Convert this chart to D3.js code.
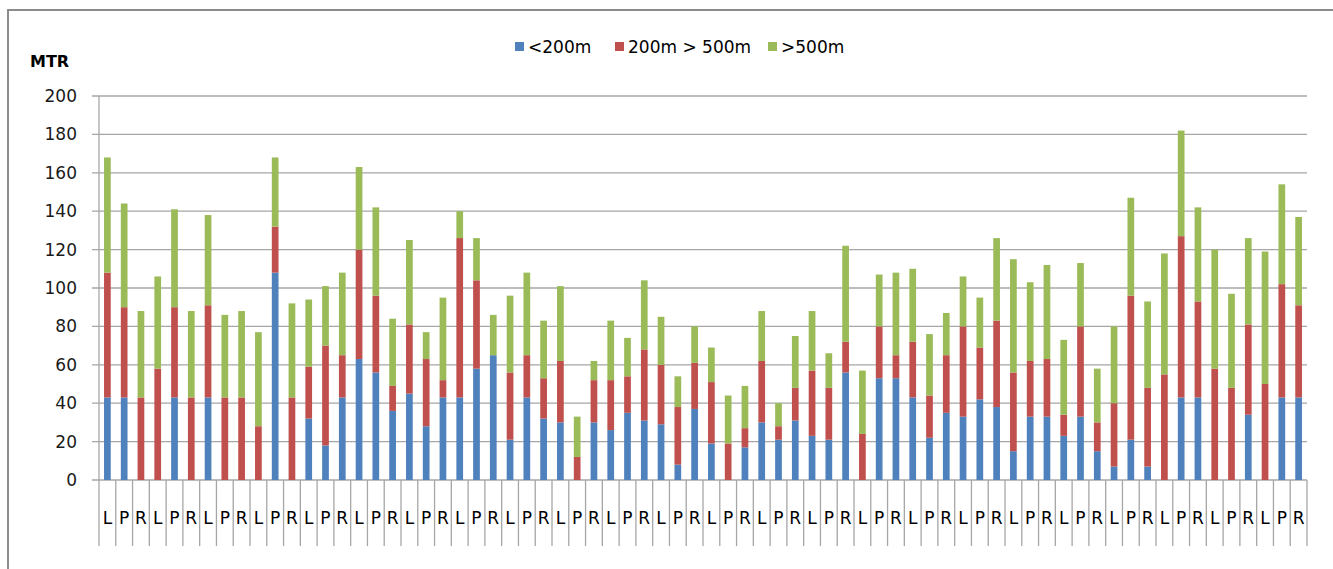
<!DOCTYPE html>
<html>
<head>
<meta charset="utf-8">
<script src="https://cdn.jsdelivr.net/npm/d3@7"></script>
<style>
  body { margin: 0; background: #fff; }
  svg { display: block; }
</style>
</head>
<body>
<div id="chart"></div>
<script>
// categorias (L, P, R repetidas)
var categorias = [
  "L","P","R","L","P","R","L","P","R","L","P","R",
  "L","P","R","L","P","R","L","P","R","L","P","R",
  "L","P","R","L","P","R","L","P","R","L","P","R",
  "L","P","R","L","P","R","L","P","R","L","P","R",
  "L","P","R","L","P","R","L","P","R","L","P","R",
  "L","P","R","L","P","R","L","P","R","L","P","R"
];

var menos200 = [43,43,0,0,43,0,43,0,0,0,108,0,32,18,43,63,56,36,
  45,28,43,43,58,65,21,43,32,30,0,30,26,35,31,29,8,37,
  19,0,17,30,21,31,23,21,56,0,53,53,43,22,35,33,42,38,
  15,33,33,23,33,15,7,21,7,0,43,43,0,0,34,0,43,43];

var entre200y500 = [65,47,43,58,47,43,48,43,43,28,24,43,27,52,22,57,40,13,
  36,35,9,83,46,0,35,22,21,32,12,22,26,19,37,31,30,24,
  32,19,10,32,7,17,34,27,16,24,27,12,29,22,30,47,27,45,
  41,29,30,11,47,15,33,75,41,55,84,50,58,48,47,50,59,48];

var mas500 = [60,54,45,48,51,45,47,43,45,49,36,49,35,31,43,43,46,35,
  44,14,43,14,22,21,40,43,30,39,21,10,31,20,36,25,16,19,
  18,25,22,26,12,27,31,18,50,33,27,43,38,32,22,26,26,43,
  59,41,49,39,33,28,40,51,45,63,55,49,62,49,45,69,52,46];

var series = ["<200m", "200m > 500m", ">500m"];
var colores = ["#4F81BD", "#C0504D", "#9BBB59"];
var ticksY = [0, 20, 40, 60, 80, 100, 120, 140, 160, 180, 200];

var width = 1333, height = 569;
var plotLeft = 99, plotRight = 1307, plotTop = 96, plotBottom = 480;

var svg = d3.select("#chart").append("svg")
  .attr("width", width)
  .attr("height", height);

// marco del grafico
svg.append("rect")
  .attr("x", 8).attr("y", 10)
  .attr("width", 1340).attr("height", 580)
  .attr("fill", "none")
  .attr("stroke", "#8c8c8c")
  .attr("stroke-width", 2);

var datos = categorias.map(function(c, i) {
  return { idx: i, cat: c, a: menos200[i], b: entre200y500[i], c2: mas500[i] };
});

var stack = d3.stack().keys(["a", "b", "c2"]);
var capas = stack(datos);

var xCat = d3.scaleBand()
  .domain(d3.range(categorias.length))
  .range([plotLeft, plotRight])
  .padding(0);

var x = d3.scaleBand()
  .domain(d3.range(categorias.length))
  .range([plotLeft, plotRight])
  .paddingInner(0.6)
  .paddingOuter(0.3);

var y = d3.scaleLinear().domain([0, 200]).range([plotBottom, plotTop]);

// lineas de cuadricula
svg.append("g")
  .selectAll("line")
  .data(ticksY)
  .enter()
  .append("line")
  .attr("x1", plotLeft - 7)
  .attr("x2", plotRight)
  .attr("y1", d => y(d))
  .attr("y2", d => y(d))
  .attr("stroke", "#a6a6a6")
  .attr("stroke-width", 1.3);

// barras apiladas
svg.append("g")
  .selectAll("g")
  .data(capas)
  .enter()
  .append("g")
  .attr("fill", (d, i) => colores[i])
  .selectAll("rect")
  .data(d => d)
  .enter()
  .append("rect")
  .attr("x", d => x(d.data.idx))
  .attr("width", x.bandwidth())
  .attr("y", d => y(d[1]))
  .attr("height", d => y(d[0]) - y(d[1]));

// eje Y
var ejeY = svg.append("g")
  .attr("transform", "translate(" + plotLeft + ",0)")
  .call(d3.axisLeft(y).tickValues(ticksY).tickSize(0).tickPadding(22));
ejeY.select(".domain").remove();
ejeY.selectAll("text")
  .attr("font-family", "DejaVu Sans")
  .attr("font-size", 17)
  .attr("fill", "#1a1a1a");

svg.append("line")
  .attr("x1", plotLeft).attr("x2", plotLeft)
  .attr("y1", plotTop).attr("y2", plotBottom)
  .attr("stroke", "#a6a6a6")
  .attr("stroke-width", 1.3);

// divisiones de categorias
var bordes = d3.range(categorias.length + 1);
svg.append("g")
  .selectAll("line")
  .data(bordes)
  .enter()
  .append("line")
  .attr("x1", d => d < categorias.length ? xCat(d) : plotRight)
  .attr("x2", d => d < categorias.length ? xCat(d) : plotRight)
  .attr("y1", plotBottom)
  .attr("y2", 546)
  .attr("stroke", "#a6a6a6")
  .attr("stroke-width", 1.3);

svg.append("g")
  .selectAll("text")
  .data(datos)
  .enter()
  .append("text")
  .attr("x", d => xCat(d.idx) + xCat.bandwidth() / 2)
  .attr("y", 524)
  .attr("text-anchor", "middle")
  .attr("font-family", "DejaVu Sans")
  .attr("font-size", 17)
  .attr("fill", "#000")
  .text(d => d.cat);

// titulo del eje
svg.append("text")
  .attr("x", 30)
  .attr("y", 67)
  .attr("font-family", "DejaVu Sans")
  .attr("font-weight", "bold")
  .attr("font-size", 16)
  .attr("fill", "#000")
  .text("MTR");

// leyenda
var leyendaX = [515, 615, 768];
var leyenda = svg.append("g")
  .selectAll("g")
  .data(series)
  .enter()
  .append("g")
  .attr("transform", (d, i) => "translate(" + leyendaX[i] + ",0)");

leyenda.append("rect")
  .attr("x", 0).attr("y", 42)
  .attr("width", 9).attr("height", 9)
  .attr("fill", (d, i) => colores[i]);

leyenda.append("text")
  .attr("x", 13)
  .attr("y", 53)
  .attr("font-family", "DejaVu Sans")
  .attr("font-size", 17)
  .attr("fill", "#000")
  .text(d => d);
</script>
</body>
</html>
